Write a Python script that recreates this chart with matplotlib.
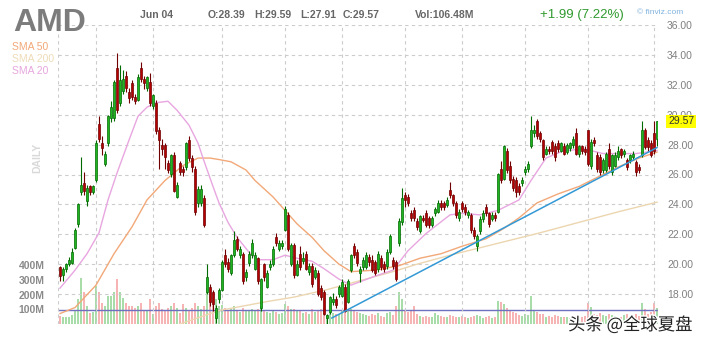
import numpy as np
import pandas as pd
import matplotlib
matplotlib.use("Agg")
import matplotlib.pyplot as plt
import matplotlib.patheffects as pe

# ---- data ----
holidays = ["2018-09-03", "2018-11-22", "2018-12-05", "2018-12-25", "2019-01-01",
            "2019-01-21", "2019-02-18", "2019-04-19", "2019-05-27"]
dates = pd.bdate_range("2018-08-16", "2019-06-04", freq="C", holidays=holidays)

opens = [19.8, 19.3, 19.7, 20.0, 20.1, 21.1, 22.7, 24.8, 25.4, 24.2,
         25.2, 24.8, 25.6, 29.4, 28.1, 26.7, 28.1, 29.8, 29.8, 33.1,
         30.8, 31.6, 32.6, 31.5, 32.1, 31.2, 31.0, 33.1, 32.4, 31.8,
         32.2, 30.6, 30.8, 29.0, 28.0, 28.0, 26.8, 26.0, 27.3, 24.5,
         26.8, 26.4, 26.5, 28.3, 27.1, 26.4, 24.1, 24.1, 24.4, 18.15,
         18.5, 18.15, 16.4, 17.7, 18.3, 20.6, 20.15, 19.4, 20.6, 21.7,
         20.6, 20.7, 19.15, 20.05, 20.6, 19.7, 20.4, 17.1, 20.0, 18.5,
         19.8, 20.0, 21.8, 21.05, 21.2, 22.3, 23.3, 20.0, 21.3, 19.3,
         20.7, 20.2, 20.7, 19.5, 19.9, 19.15, 19.4, 18.4, 18.15, 16.4,
         16.8, 17.5, 17.7, 18.0, 17.9, 18.5, 17.5, 19.6, 21.2, 20.8,
         19.4, 19.8, 19.8, 20.5, 20.3, 20.15, 19.7, 20.4, 20.0, 19.9,
         20.8, 20.3, 20.15, 21.4, 22.8, 24.6, 24.5, 23.4, 23.6, 22.9,
         22.2, 23.1, 23.4, 23.1, 22.6, 23.4, 23.5, 24.1, 24.1, 23.95,
         24.95, 24.6, 24.1, 23.1, 24.1, 23.8, 23.3, 23.3, 22.3, 21.2,
         22.2, 23.0, 23.8, 23.4, 23.05, 23.3, 23.5, 26.4, 25.7, 27.6,
         26.6, 25.7, 25.6, 25.2, 25.4, 26.2, 26.4, 27.9, 28.8, 29.6,
         28.75, 28.3, 27.4, 27.7, 28.2, 27.9, 28.1, 27.6, 27.9, 27.5,
         27.75, 27.95, 28.75, 27.4, 27.9, 27.7, 28.95, 26.6, 28.3, 27.3,
         27.2, 26.3, 26.3, 27.7, 26.2, 26.6, 27.2, 27.7, 27.4, 26.95,
         26.95, 27.2, 26.85, 26.5, 27.3, 28.95, 28.3, 28.1, 28.75, 28.39]
highs = [19.9, 19.8, 20.1, 20.5, 21.1, 22.4, 24.1, 27.2, 26.2, 25.3,
         25.3, 25.3, 28.3, 29.9, 28.6, 27.6, 30.0, 30.9, 32.3, 34.1,
         33.3, 33.0, 32.9, 31.8, 32.3, 31.4, 32.7, 33.5, 32.6, 32.6,
         32.8, 31.4, 31.0, 29.2, 28.4, 28.1, 27.0, 27.4, 27.5, 25.5,
         26.9, 26.6, 28.2, 28.6, 27.3, 26.6, 25.2, 25.3, 24.6, 20.0,
         18.7, 18.3, 17.3, 18.4, 20.3, 21.0, 20.4, 20.7, 22.2, 21.9,
         21.2, 20.8, 19.7, 20.9, 21.7, 20.8, 20.5, 19.1, 20.1, 19.6,
         20.3, 21.2, 22.1, 21.6, 21.6, 23.9, 23.5, 21.4, 21.4, 20.3,
         21.2, 20.8, 20.9, 20.1, 20.1, 19.8, 19.6, 18.6, 18.3, 16.7,
         17.9, 18.1, 17.9, 18.6, 19.0, 18.7, 19.0, 20.7, 21.4, 21.0,
         19.9, 20.5, 20.8, 20.7, 20.6, 20.3, 20.9, 20.6, 20.2, 21.0,
         22.0, 20.5, 20.3, 23.1, 25.1, 24.8, 24.7, 23.6, 23.8, 23.1,
         23.3, 23.3, 23.6, 23.2, 23.2, 23.8, 24.3, 24.3, 24.2, 24.5,
         25.5, 24.7, 24.2, 23.7, 24.2, 24.0, 23.6, 23.4, 22.5, 22.0,
         23.2, 23.6, 24.0, 23.5, 23.5, 23.5, 26.1, 26.9, 28.0, 27.8,
         26.9, 25.9, 25.8, 25.4, 25.8, 26.6, 26.9, 29.9, 29.3, 29.7,
         28.9, 28.4, 27.9, 27.9, 28.3, 28.1, 28.3, 28.2, 28.1, 28.1,
         28.2, 28.6, 29.1, 28.0, 28.0, 27.9, 29.0, 28.4, 28.5, 27.5,
         27.4, 27.1, 27.5, 28.1, 27.4, 27.5, 27.9, 27.8, 27.7, 27.1,
         27.4, 27.6, 27.0, 26.7, 29.6, 29.1, 28.5, 28.3, 29.6, 29.59]
lows = [18.9, 18.9, 19.5, 19.9, 20.0, 21.0, 22.5, 24.6, 24.6, 23.9,
        24.6, 24.7, 25.5, 28.2, 27.3, 26.6, 27.9, 29.5, 29.6, 30.1,
        30.6, 31.4, 31.5, 30.8, 31.0, 30.7, 30.9, 32.2, 31.7, 31.6,
        30.6, 30.4, 28.7, 26.4, 27.3, 26.4, 26.1, 25.8, 24.8, 24.4,
        26.0, 25.9, 26.3, 26.9, 26.2, 23.3, 23.8, 23.9, 22.5, 18.0,
        17.2, 16.9, 16.1, 17.4, 18.2, 19.8, 19.5, 19.3, 20.5, 20.9,
        20.4, 18.7, 18.9, 19.9, 20.4, 19.6, 18.7, 16.9, 18.9, 18.4,
        19.6, 19.9, 21.2, 20.9, 21.0, 22.2, 20.9, 19.9, 19.1, 19.2,
        19.6, 20.0, 19.6, 19.3, 18.5, 19.0, 17.9, 17.6, 16.6, 16.0,
        16.7, 17.3, 17.1, 17.8, 17.8, 16.8, 17.4, 19.5, 20.4, 19.9,
        18.8, 19.6, 19.7, 19.9, 19.5, 19.3, 19.5, 19.6, 19.5, 19.7,
        20.7, 19.7, 18.9, 21.2, 22.6, 23.8, 23.9, 22.9, 22.9, 22.3,
        22.1, 22.8, 22.5, 22.4, 22.5, 23.2, 23.4, 23.6, 23.6, 23.8,
        24.4, 23.9, 23.1, 22.9, 23.5, 23.3, 23.1, 22.1, 21.7, 20.9,
        22.0, 22.8, 23.2, 22.5, 22.9, 22.9, 23.4, 25.4, 25.6, 26.1,
        25.4, 24.9, 24.5, 24.6, 25.2, 26.0, 26.2, 27.8, 28.5, 28.4,
        28.2, 27.0, 27.3, 27.4, 27.4, 26.9, 27.5, 27.5, 27.3, 27.4,
        27.6, 27.8, 27.3, 27.2, 27.4, 27.3, 26.6, 26.4, 27.9, 26.2,
        26.0, 26.1, 26.2, 26.4, 26.0, 26.5, 27.0, 27.1, 27.2, 26.3,
        26.8, 27.0, 25.9, 26.1, 27.2, 27.7, 27.6, 27.2, 27.4, 27.91]
closes = [19.2, 19.7, 20.0, 20.3, 20.8, 22.3, 24.0, 25.3, 24.9, 25.1,
          24.8, 25.2, 28.1, 28.4, 27.8, 27.4, 29.9, 30.5, 32.2, 30.3,
          32.3, 32.4, 31.8, 31.1, 31.2, 30.9, 32.5, 32.4, 32.1, 32.5,
          30.8, 31.3, 28.9, 28.3, 27.7, 27.2, 26.3, 27.3, 24.9, 25.3,
          26.2, 26.2, 28.1, 27.1, 26.5, 23.5, 25.0, 25.0, 22.6, 19.15,
          17.5, 17.35, 17.1, 18.25, 20.15, 20.0, 19.7, 20.6, 21.6, 21.05,
          21.05, 18.9, 19.5, 20.7, 21.4, 20.6, 18.9, 19.0, 19.15, 19.4,
          20.0, 21.05, 21.4, 21.4, 21.4, 23.7, 21.05, 21.3, 19.3, 20.0,
          19.8, 20.4, 19.7, 19.9, 18.7, 19.6, 18.0, 17.8, 16.7, 16.6,
          17.8, 17.7, 17.3, 18.5, 18.8, 16.9, 18.9, 20.6, 20.6, 20.05,
          19.7, 20.3, 20.6, 20.15, 19.6, 19.4, 20.7, 19.8, 19.7, 20.8,
          21.9, 19.9, 19.0, 22.9, 24.4, 24.3, 24.1, 23.1, 23.1, 22.5,
          23.2, 22.95, 22.6, 22.6, 23.1, 23.7, 24.1, 23.8, 23.8, 24.3,
          24.6, 24.1, 23.3, 23.5, 23.7, 23.5, 23.5, 22.3, 21.9, 21.9,
          23.05, 23.4, 23.4, 22.7, 23.3, 23.1, 26.0, 25.6, 27.9, 26.3,
          25.6, 25.1, 24.8, 24.8, 25.6, 26.4, 26.7, 29.0, 29.0, 28.6,
          28.4, 27.2, 27.7, 27.6, 27.6, 27.2, 27.7, 28.1, 27.4, 27.95,
          28.1, 28.4, 27.4, 27.9, 27.6, 27.5, 26.7, 28.2, 28.1, 26.4,
          26.2, 26.95, 27.4, 26.6, 27.3, 27.3, 27.6, 27.3, 27.6, 26.5,
          27.3, 27.4, 26.2, 26.3, 28.95, 27.85, 27.85, 27.3, 27.58, 29.57]
volume_m = [55, 45, 50, 48, 60, 95, 170, 315, 215, 120,
            75, 80, 260, 215, 145, 120, 190, 190, 215, 305,
            215, 180, 145, 120, 120, 110, 120, 145, 90, 90,
            170, 65, 120, 145, 100, 90, 110, 120, 145, 110,
            75, 135, 110, 90, 110, 145, 120, 100, 120, 245,
            190, 160, 170, 120, 130, 110, 95, 100, 120, 90,
            85, 110, 95, 90, 105, 90, 100, 120, 95, 85,
            75, 95, 80, 70, 75, 135, 120, 100, 105, 90,
            95, 75, 85, 70, 100, 80, 95, 100, 110, 60,
            85, 75, 65, 70, 90, 110, 95, 100, 95, 80,
            75, 65, 60, 55, 65, 60, 75, 55, 50, 75,
            85, 60, 125, 215, 170, 95, 80, 90, 120, 65,
            55, 45, 55, 50, 45, 75, 60, 55, 50, 45,
            60, 55, 50, 45, 55, 45, 40, 50, 55, 60,
            55, 40, 45, 55, 40, 50, 155, 150, 135, 110,
            90, 80, 75, 60, 55, 65, 60, 190, 95, 80,
            65, 70, 50, 55, 45, 60, 55, 45, 50, 45,
            40, 50, 55, 50, 45, 55, 145, 115, 70, 60,
            75, 60, 55, 65, 60, 55, 45, 50, 60, 70,
            55, 50, 65, 55, 140, 105, 70, 80, 145, 106.48]

# moving averages (trading-day index, price)
sma20_idx = [0, 5, 9, 13, 16, 19, 23, 26, 29, 32, 36, 39, 43, 46, 48, 51, 53, 56, 59, 63,
             66, 71, 75, 79, 84, 88, 93, 97, 105, 111, 116, 122, 130, 134, 140, 146, 153,
             157, 162, 168, 175, 181, 188, 192, 199]
sma20_val = [18.4, 19.6, 20.7, 22.1, 24.3, 26.1, 28.3, 29.9, 30.5, 30.8, 30.9, 30.3, 29.3,
             28.1, 26.9, 25.2, 24.1, 22.8, 21.8, 20.8, 20.3, 20.3, 20.6, 20.4, 20.2, 19.7,
             19.0, 18.6, 19.2, 19.6, 20.9, 22.05, 23.3, 23.4, 23.3, 23.6, 24.3, 25.6, 27.1,
             27.6, 27.7, 27.4, 27.4, 27.4, 27.6]
sma50_idx = [0, 5, 12, 18, 24, 29, 35, 41, 46, 50, 53, 57, 62, 65, 71, 75, 79, 84, 88, 93,
             97, 105, 113, 120, 127, 134, 142, 148, 153, 159, 166, 173, 179, 186, 193, 199]
sma50_val = [16.7, 17.1, 18.6, 20.7, 22.5, 24.3, 25.6, 26.6, 27.1, 27.1, 27.0, 26.85, 26.3,
             25.6, 24.5, 23.6, 22.7, 21.8, 20.9, 20.0, 19.5, 19.6, 19.9, 20.4, 20.7, 21.2,
             21.7, 22.4, 23.1, 24.1, 24.7, 25.2, 25.8, 26.5, 27.1, 27.5]
sma200_idx = [40, 53, 69, 78, 89, 100, 111, 119, 130, 146, 160, 173, 186, 199]
sma200_val = [16.0, 16.9, 17.5, 17.8, 18.3, 18.9, 19.5, 20.0, 20.6, 21.4, 22.1, 22.8, 23.5, 24.15]
trend_idx = [90.6, 199]
trend_val = [16.4, 27.8]
avg_volume_m = 98

price_ticks = [18, 20, 22, 24, 26, 28, 30, 32, 34, 36]
vol_ticks_m = [100, 200, 300, 400]
month_labels = ["Sep", "Oct", "Nov", "Dec", "2019", "Feb", "Mar", "Apr", "May", "Jun"]

# ---- figure ----
W, H = 709, 344
fig = plt.figure(figsize=(W / 100, H / 100), dpi=100)
plt.rcParams["font.family"] = ["Liberation Sans", "DejaVu Sans"]

L, R, T, B = 58, 658, 25, 324
ax = fig.add_axes([L / W, 1 - B / H, (R - L) / W, (B - T) / H])
axv = ax.twinx()
ax.set_zorder(axv.get_zorder() + 1)
ax.patch.set_visible(False)

x = np.arange(len(dates))
o = np.array(opens); c = np.array(closes)
up = c >= o

# volume
vcol = np.where(up, "#a8dca8", "#f6b4b4")
axv.bar(x, volume_m, width=0.92, color=vcol, linewidth=0)
axv.axhline(avg_volume_m, color="#7070c0", lw=1.0)
axv.set_ylim(0, 2035)
axv.set_yticks(vol_ticks_m)
axv.set_yticklabels([f"{v}M" for v in vol_ticks_m])
axv.yaxis.tick_left()
axv.tick_params(axis="y", length=0, pad=9.5, labelsize=7.5, labelcolor="#8a8a8a")
for t in axv.get_yticklabels():
    t.set_fontweight("bold")

# grid
month_start = [i for i in range(1, len(dates)) if dates[i].month != dates[i - 1].month]
for m in month_start:
    ax.axvline(m, color="#cccccc", lw=0.8, ls=(0, (3, 3)), zorder=0)
for p in price_ticks:
    ax.axhline(p, color="#cccccc", lw=0.8, ls=(0, (3, 3)), zorder=0)

# moving averages and trend line
ax.plot(sma200_idx, sma200_val, color="#ecd6b0", lw=1.0, zorder=2)
ax.plot(sma50_idx, sma50_val, color="#f2a878", lw=1.0, zorder=2)
ax.plot(sma20_idx, sma20_val, color="#e8a6e0", lw=1.0, zorder=2)
ax.plot(trend_idx, trend_val, color="#3399d6", lw=1.1, zorder=4)

# candles
wick_col = np.where(up, "#006a00", "#700000")
body_col = np.where(up, "#1fb41f", "#b40000")
ax.vlines(x, lows, highs, colors=wick_col, lw=0.8, zorder=3)
bottom = np.minimum(o, c)
height = np.maximum(np.abs(c - o), 0.08)
ax.bar(x, height, bottom=bottom, width=0.8, color=body_col, edgecolor=wick_col,
       linewidth=0.5, zorder=3)

ax.set_xlim(-0.67, len(dates) - 0.67)
ax.set_ylim(16, 36)
ax.yaxis.tick_right()
ax.set_yticks(price_ticks)
ax.set_yticklabels([f"{p:.2f}" for p in price_ticks])
ax.tick_params(axis="y", length=0, pad=6.5, labelsize=7.5, labelcolor="#808080")
ax.set_xticks(month_start)
ax.set_xticklabels(month_labels)
ax.tick_params(axis="x", length=0, pad=5, labelsize=8, labelcolor="#808080")
for t in ax.get_xticklabels():
    t.set_fontweight("bold")
axv.set_xticks([])
for a in (ax, axv):
    for s in a.spines.values():
        s.set_visible(False)
ax.axvline(-0.67, color="#cccccc", lw=0.8, ls=(0, (3, 3)))
ax.axvline(len(dates) - 0.67, color="#cccccc", lw=0.8, ls=(0, (3, 3)))

# last price tag
ax.text(1.0 + 10 / (R - L), closes[-1], f"{closes[-1]:.2f}", transform=ax.get_yaxis_transform(),
        ha="left", va="center", fontsize=7.5, color="#333333", zorder=10,
        bbox=dict(boxstyle="square,pad=0.15", fc="#ffff00", ec="none"))

# header texts
def ftext(px, py, s, **kw):
    fig.text(px / W, 1 - py / H, s, va="center", **kw)

ftext(13, 23, "AMD", fontsize=23, fontweight="bold", color="#7c7c7c")
ftext(12, 47, "SMA 50", fontsize=7.5, color="#f2a878")
ftext(12, 59, "SMA 200", fontsize=7.5, color="#eedcb8")
ftext(12, 71, "SMA 20", fontsize=7.5, color="#e6a6de")
ftext(37, 158, "DAILY", fontsize=7.5, fontweight="bold", color="#d9d9d9", rotation=90, ha="center")
ftext(140, 15, "Jun 04", fontsize=7.5, fontweight="bold", color="#666666")
ftext(208, 15, "O:28.39", fontsize=7.5, fontweight="bold", color="#666666")
ftext(254, 15, "H:29.59", fontsize=7.5, fontweight="bold", color="#666666")
ftext(300, 15, "L:27.91", fontsize=7.5, fontweight="bold", color="#666666")
ftext(343, 15, "C:29.57", fontsize=7.5, fontweight="bold", color="#666666")
ftext(415, 15, "Vol:106.48M", fontsize=7.5, fontweight="bold", color="#666666")
ftext(540, 15, "+1.99 (7.22%)", fontsize=9.5, color="#2f9a2f")
ftext(637, 13, "© finviz.com", fontsize=6, color="#80b2de")

fig.text(568 / W, 1 - 325 / H, "头条 @全球夏盘", va="center", fontsize=12.5, color="#222222",
         family=["Noto Sans CJK SC", "DejaVu Sans"],
         path_effects=[pe.withStroke(linewidth=2, foreground="white")])

fig.savefig("out.png", dpi=100)
